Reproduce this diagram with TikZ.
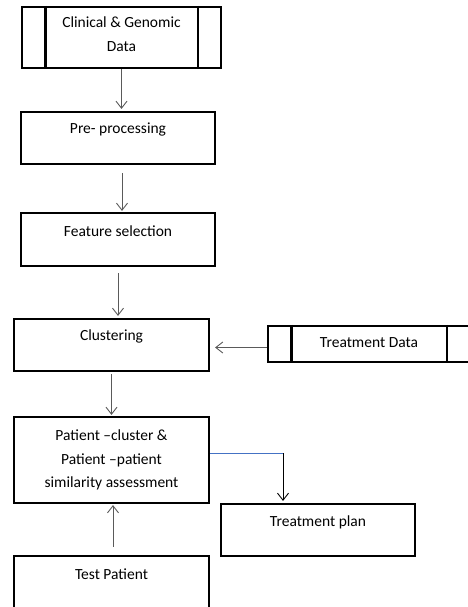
\documentclass[tikz,border=0pt]{standalone}
\usepackage{fontspec}
\setmainfont{Carlito}
\usetikzlibrary{arrows.meta}
\definecolor{lineblue}{RGB}{68,114,196}
\definecolor{arrowgray}{RGB}{90,90,90}
\tikzset{
	box/.style={draw,line width=2.2pt,rectangle,inner sep=2pt,align=center},
	toptext/.style={label={[anchor=center,yshift=-19pt,align=center]north:#1}},
	arrow/.style={draw=arrowgray,line width=0.9pt,-{Straight Barb[length=7pt,width=11pt]}},
}
\begin{document}
\begin{tikzpicture}[x=1pt,y=-1pt,font=\fontsize{15.5}{23.5}\selectfont]
		\useasboundingbox (0,0) rectangle (467,607);
		% Datenquellen
		\node[box,minimum width=199pt,minimum height=61pt] (clin) at (121.5,37.5) {};
		\node[align=center] (clintext) at (121.5,34) {Clinical \& Genomic\\Data};
		\node[box,minimum width=202pt,minimum height=36pt] (treat) at (369,344) {};
		\node (treattext) at (369,343) {Treatment Data};
		\foreach \n in {clin,treat} {
			\draw[line width=2.2pt] ([xshift=24.5pt]\n.north west) -- ([xshift=24.5pt]\n.south west);
			\draw[line width=2.2pt] ([xshift=-24.5pt]\n.north east) -- ([xshift=-24.5pt]\n.south east);
		}
		% Schritte
		\node[box,minimum width=194pt,minimum height=52pt,toptext={Pre- processing}] (pre) at (118,138) {};
		\node[box,minimum width=194pt,minimum height=53pt,toptext={Feature selection}] (feat) at (118,239.5) {};
		\node[box,minimum width=195pt,minimum height=52pt,toptext={Clustering}] (clust) at (111.5,345) {};
		\node[box,minimum width=195pt,minimum height=86pt] (sim) at (111.5,460) {Patient --cluster \&\\Patient --patient\\similarity assessment};
		\node[box,minimum width=194pt,minimum height=52pt,toptext={Treatment plan}] (plan) at (318,530) {};
		\node[box,minimum width=195pt,minimum height=64pt,toptext={Test Patient}] (test) at (111.5,588) {};
		% Pfeile
		\draw[arrow,shorten >=2pt] (clin.south) -- (clin.south |- pre.north);
		\draw[arrow,shorten <=8pt,shorten >=1pt] ([xshift=4pt]pre.south) -- ([xshift=4pt]feat.north);
		\draw[arrow,shorten <=6pt,shorten >=2pt] (feat.south) -- (feat.south |- clust.north);
		\draw[arrow,shorten <=2pt,shorten >=1pt] (clust.south) -- (sim.north);
		\draw[arrow,shorten >=5pt] ([yshift=-3.5pt]treat.west) -- ([yshift=-3.5pt]treat.west -| clust.east);
		\draw[arrow,shorten <=8pt,shorten >=1pt] ([xshift=1.5pt]test.north) -- ([xshift=1.5pt]sim.south);
		\coordinate (bend) at ([yshift=7pt]sim.east -| 283,0);
		\draw[lineblue,line width=0.7pt] ([yshift=7pt]sim.east) -- (bend);
		\draw[arrow,draw=black,shorten >=2pt] (bend) -- (bend |- plan.north);
	\end{tikzpicture}
\end{document}
